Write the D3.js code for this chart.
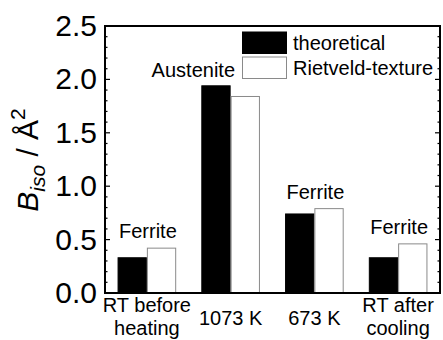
<!DOCTYPE html>
<html>
<head>
<meta charset="utf-8">
<script src="https://cdn.jsdelivr.net/npm/d3@7"></script>
<style>
  html, body { margin: 0; padding: 0; background: #fff; }
  svg { display: block; font-family: "Liberation Sans", Arial, sans-serif; }
</style>
</head>
<body>
<svg id="chart" width="443" height="340"></svg>
<script>
const categories = [["RT before", "heating"], ["1073 K"], ["673 K"], ["RT after", "cooling"]];
const phases = ["Ferrite", "Austenite", "Ferrite", "Ferrite"];
const series = ["theoretical", "Rietveld-texture"];
const theoretical = [0.33, 1.94, 0.74, 0.33];
const rietveld = [0.42, 1.84, 0.79, 0.46];
const yTicks = [0.0, 0.5, 1.0, 1.5, 2.0, 2.5];

const svg = d3.select("#chart");
const m = { left: 105, right: 440, top: 26, bottom: 293 };

const x = d3.scaleBand().domain(d3.range(categories.length))
  .range([m.left, m.right]).paddingInner(0.3).paddingOuter(0.15);
const xs = d3.scaleBand().domain([0, 1]).range([0, x.bandwidth()]);
const y = d3.scaleLinear().domain([0, 2.5]).range([m.bottom, m.top]);

const data = categories.map((c, i) => ({ i, vals: [theoretical[i], rietveld[i]] }));

// bars
const g = svg.append("g");
data.forEach(d => {
  d.vals.forEach((v, k) => {
    g.append("rect")
      .attr("x", x(d.i) + xs(k) + 0.5)
      .attr("y", y(v))
      .attr("width", xs.bandwidth() - 1)
      .attr("height", y(0) - y(v))
      .attr("fill", k === 0 ? "#000" : "#fff")
      .attr("stroke", k === 0 ? "#000" : "#8a8a8a")
      .attr("stroke-width", 1);
  });
});

// phase labels
const phaseLabel = svg.append("g").attr("font-size", 20).attr("fill", "#000");
data.forEach(d => {
  const top = y(d3.max(d.vals));
  if (phases[d.i] === "Austenite") {
    phaseLabel.append("text").attr("x", x(d.i) - 8).attr("y", 77)
      .attr("text-anchor", "middle").text(phases[d.i]);
  } else {
    phaseLabel.append("text").attr("x", x(d.i) + x.bandwidth() / 2 + 1).attr("y", top - 10)
      .attr("text-anchor", "middle").text(phases[d.i]);
  }
});

// axes ticks (inside), left and right
const minor = d3.range(0, 2.501, 0.1);
const axG = svg.append("g").attr("stroke", "#000").attr("stroke-width", 1.2);
minor.forEach(t => {
  const isMajor = Math.abs(t * 2 - Math.round(t * 2)) < 1e-6;
  const len = isMajor ? 5 : 2.5;
  axG.append("line").attr("x1", m.left).attr("x2", m.left + len).attr("y1", y(t)).attr("y2", y(t));
  axG.append("line").attr("x1", m.right).attr("x2", m.right - len).attr("y1", y(t)).attr("y2", y(t));
});

// frame
svg.append("rect").attr("x", m.left).attr("y", m.top)
  .attr("width", m.right - m.left).attr("height", m.bottom - m.top)
  .attr("fill", "none").attr("stroke", "#000").attr("stroke-width", 2);

// y tick labels
svg.append("g").selectAll("text").data(yTicks).join("text")
  .attr("x", 97).attr("y", d => y(d)).attr("dy", "0.33em")
  .attr("text-anchor", "end").attr("font-size", 30).attr("fill", "#000")
  .text(d => d.toFixed(1));

// x labels
const xl = svg.append("g").attr("font-size", 20).attr("fill", "#000").attr("text-anchor", "middle");
categories.forEach((c, i) => {
  const cx = x(i) + x.bandwidth() / 2;
  if (c.length === 2) {
    xl.append("text").attr("x", cx).attr("y", 312).text(c[0]);
    xl.append("text").attr("x", cx).attr("y", 335).text(c[1]);
  } else {
    xl.append("text").attr("x", cx).attr("y", 325).text(c[0]);
  }
});

// y title
const title = svg.append("text").attr("transform", "translate(38,160) rotate(-90)")
  .attr("text-anchor", "middle").attr("font-size", 30).attr("fill", "#000");
title.append("tspan").attr("font-style", "italic").text("B");
title.append("tspan").attr("font-style", "italic").attr("font-size", 21).attr("dy", 7).text("iso");
title.append("tspan").attr("dy", -7).text(" / Å");
title.append("tspan").attr("font-size", 21).attr("dy", -13).text("2");

// legend
const lg = svg.append("g");
series.forEach((s, k) => {
  const yy = 32 + k * 25;
  lg.append("rect").attr("x", 242.5).attr("y", yy).attr("width", 44).attr("height", 21.5)
    .attr("fill", k === 0 ? "#000" : "#fff").attr("stroke", k === 0 ? "#000" : "#8a8a8a");
  lg.append("text").attr("x", 293).attr("y", yy + 18).attr("font-size", 20).attr("fill", "#000").text(s);
});
</script>
</body>
</html>
